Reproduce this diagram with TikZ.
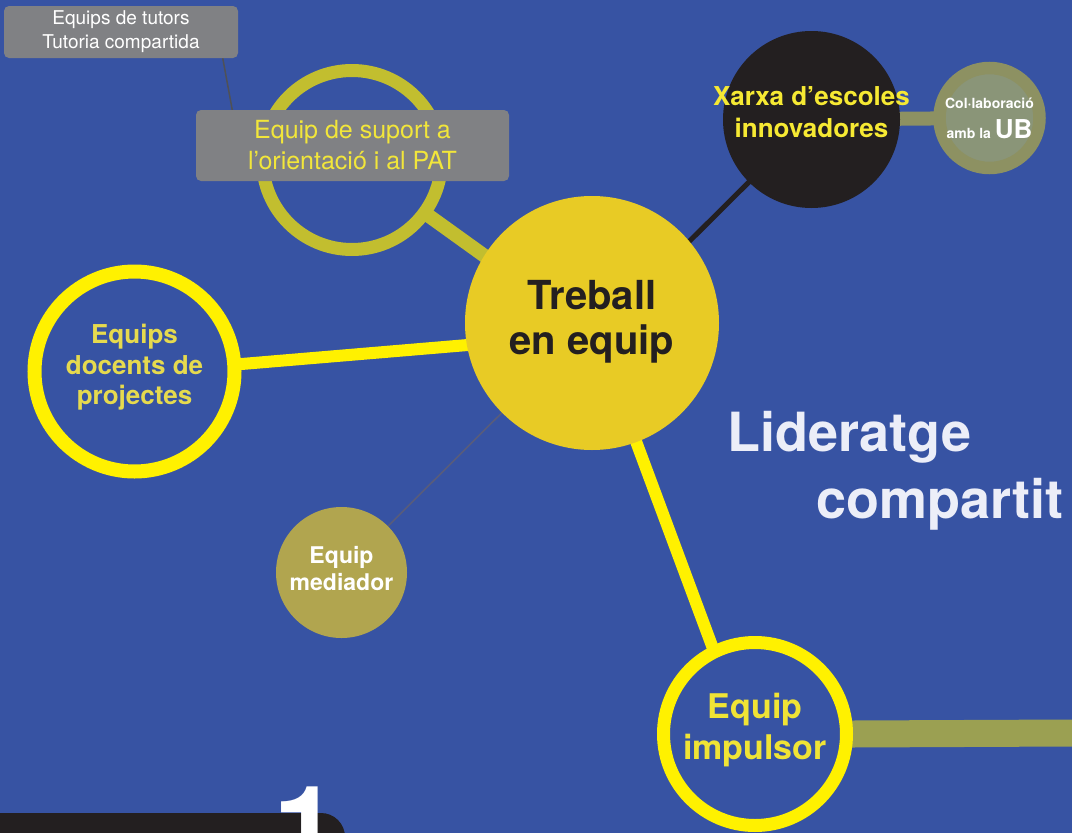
\documentclass[tikz,border=0pt]{standalone}
\usepackage{fontspec}
\setmainfont{TeX Gyre Heros}
\usetikzlibrary{calc,positioning}
\definecolor{pageblue}{HTML}{3753A3}
\definecolor{hubyellow}{HTML}{E8CB25}
\definecolor{inkdark}{HTML}{231F20}
\definecolor{ringyellow}{HTML}{FFF100}
\definecolor{docentstext}{HTML}{E6DA4E}
\definecolor{impulsortext}{HTML}{F0E435}
\definecolor{suportolive}{HTML}{C2BE2F}
\definecolor{boxgray}{HTML}{808184}
\definecolor{suporttext}{HTML}{F2E63A}
\definecolor{xarxatext}{HTML}{F6E933}
\definecolor{ubouter}{HTML}{8D9162}
\definecolor{ubinner}{HTML}{8A9578}
\definecolor{mediadorolive}{HTML}{B1A54F}
\definecolor{mediadorline}{HTML}{585C7C}
\definecolor{impulsorbar}{HTML}{9BA052}
\definecolor{tutorline}{HTML}{4F5156}
\definecolor{titlewhite}{HTML}{ECEEF8}
\newcommand{\liftstrut}[1]{\rule[-#1]{0pt}{#1}}
\pgfdeclarelayer{back}
\pgfdeclarelayer{links}
\pgfsetlayers{back,links,main}
\tikzset{
  hub/.style={circle,fill=hubyellow,text=inkdark,minimum size=254pt,inner sep=0pt,align=center,font=\bfseries\fontsize{40}{45}\selectfont},
  ringnode/.style={circle,draw=#1,inner sep=0pt,align=center},
  disc/.style={circle,fill=#1,inner sep=0pt,align=center},
  labelbox/.style={fill=boxgray,rounded corners=5pt,inner sep=0pt,align=center},
  link/.style={draw=#1,line cap=butt},
  tuck/.style={shorten <=-4pt,shorten >=-5pt}
}

\begin{document}
\begin{tikzpicture}[x=1pt,y=-1pt]
\useasboundingbox (0,0) rectangle (1072,833);
\clip (0,0) rectangle (1072,833);
\begin{pgfonlayer}{back}
  \fill[pageblue] (0,0) rectangle (1072,833);
\end{pgfonlayer}

% central hub and the teams around it
\node[hub] (hub) at (592,323) {Treball\\en equip\liftstrut{12pt}};
\node[ringnode=ringyellow,line width=14pt,minimum size=200pt,text=docentstext,font=\bfseries\fontsize{26}{30.5}\selectfont] (docents) at (134.5,371.5) {Equips\\docents de\\projectes\liftstrut{14pt}};
\node[ringnode=ringyellow,line width=13pt,minimum size=183pt,text=impulsortext,font=\bfseries\fontsize{34}{41}\selectfont] (impulsor) at (755,734) {Equip\\impulsor\liftstrut{15pt}};
\node[disc=mediadorolive,minimum size=131pt,text=white,font=\bfseries\fontsize{23}{27}\selectfont] (mediador) at (341.5,572.5) {Equip\\mediador\liftstrut{8pt}};
\node[ringnode=suportolive,line width=13pt,minimum size=179pt] (suport) at (352,160) {};
\node[labelbox,text=suporttext,minimum width=313pt,minimum height=71pt,font=\fontsize{25}{31}\selectfont] (suportbox) at (352.5,145.5) {Equip de suport a\\l’orientació i al PAT};
\node[labelbox,text=white,minimum width=234pt,minimum height=52pt,font=\fontsize{19}{24}\selectfont] (tutors) at (121,32) {Equips de tutors\\Tutoria compartida};

% network and university
\node[disc=inkdark,minimum size=177pt] (xarxa) at (811.5,119.5) {};
\node[text=xarxatext,align=center,inner sep=0pt,font=\bfseries\fontsize{26}{32}\selectfont] (xarxalabel) at (811.5,112.5) {Xarxa d’escoles\\innovadores};
\node[disc=ubinner,draw=ubouter,line width=12.5pt,minimum size=100pt,text=white,font=\bfseries\fontsize{14}{30}\selectfont] (ub) at (989.5,118) {Col·laboració\\amb la {\fontsize{26}{30}\selectfont UB}};

\coordinate (rightend) at (1072,733);

% title
\node[anchor=north west,inner sep=0pt,align=left,text=titlewhite,font=\bfseries\fontsize{54}{67}\selectfont] (lideratge) at (727,411) {Lideratge\\\hspace*{89pt}compartit};

% chapter tab
\fill[inkdark,rounded corners=24pt] (-40,813) rectangle (345,900);
\node[anchor=base west,inner sep=0pt,text=white,font=\bfseries\fontsize{118}{118}\selectfont] (chapter) at (273,870) {1};

\begin{pgfonlayer}{links}
  \draw[link=suportolive,line width=14pt,tuck] (suport.-36) -- (hub.148);
  \draw[link=ringyellow,line width=12pt,tuck] (docents.4.6) -- (hub.190);
  \draw[link=ringyellow,line width=12pt,tuck] (hub.center) -- (impulsor.116);
  \draw[link=inkdark,line width=5pt,tuck] (xarxa.225) -- (hub.40);
  \draw[link=ubouter,line width=14pt] (xarxa.center) -- (ub.center);
  \draw[link=mediadorline,line width=1.6pt] (mediador.center) -- (hub.center);
  \draw[link=impulsorbar,line width=27pt,shorten <=-5pt] (impulsor.east) -- (rightend);
  \draw[link=tutorline,line width=1.5pt] ($(tutors.south east)+(-16,-3)$) -- ($(suportbox.north west)+(37,3)$);
\end{pgfonlayer}
\end{tikzpicture}
\end{document}
